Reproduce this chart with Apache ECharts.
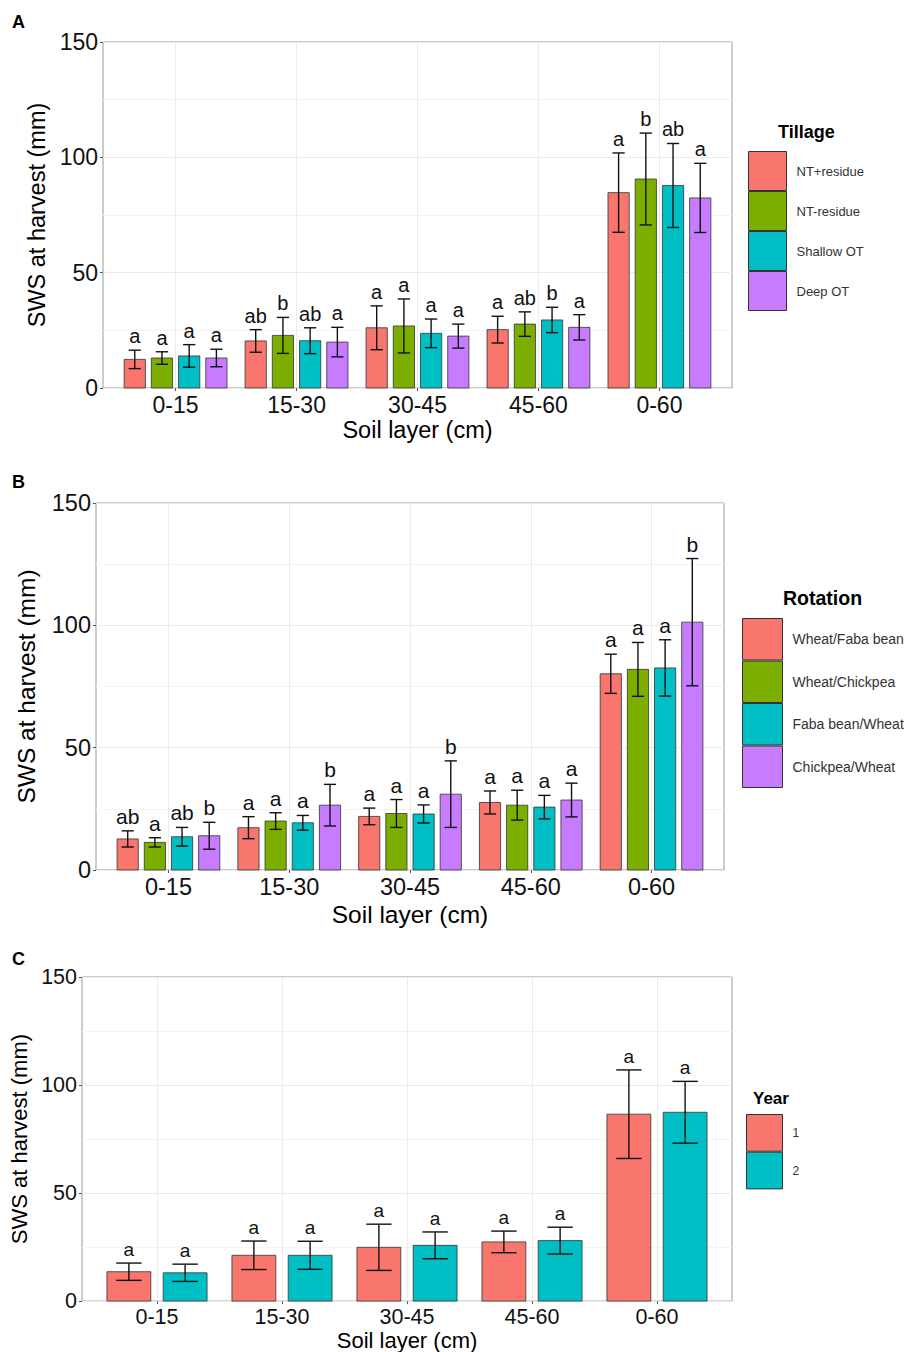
<!DOCTYPE html>
<html>
<head>
<meta charset="utf-8">
<script src="https://cdn.jsdelivr.net/npm/echarts@6/dist/echarts.min.js"></script>
<style>
html,body{margin:0;padding:0;background:#fff;}
#chart{width:909px;height:1352px;}
</style>
</head>
<body>
<div id="chart"></div>
<script>
// ---------------- data ----------------
const categories = ['0-15', '15-30', '30-45', '45-60', '0-60'];
const yTicks = [0, 50, 100, 150];
const xTitle = 'Soil layer (cm)';
const yTitle = 'SWS at harvest (mm)';

// Panel A – Tillage
const tillageNames = ['NT+residue', 'NT-residue', 'Shallow OT', 'Deep OT'];
const tillageMean = [
  [12.4, 20.4, 26.1, 25.3, 84.7],
  [13.0, 22.8, 26.9, 27.7, 90.6],
  [13.9, 20.5, 23.7, 29.5, 87.8],
  [13.0, 19.9, 22.5, 26.3, 82.4]
];
const tillageErr = [
  [4.0, 4.9, 9.5, 5.8, 17.2],
  [2.7, 7.8, 11.7, 5.3, 19.9],
  [4.9, 5.6, 6.2, 5.5, 18.2],
  [3.8, 6.4, 5.2, 5.5, 15.0]
];
const tillageLetters = [
  ['a', 'ab', 'a', 'a', 'a'],
  ['a', 'b', 'a', 'ab', 'b'],
  ['a', 'ab', 'a', 'b', 'ab'],
  ['a', 'a', 'a', 'a', 'a']
];

// Panel B – Rotation
const rotationNames = ['Wheat/Faba bean', 'Wheat/Chickpea', 'Faba bean/Wheat', 'Chickpea/Wheat'];
const rotationMean = [
  [12.7, 17.3, 21.9, 27.6, 80.2],
  [11.3, 20.0, 23.1, 26.5, 82.0],
  [13.6, 19.3, 22.9, 25.7, 82.6],
  [14.0, 26.5, 31.0, 28.6, 101.3]
];
const rotationErr = [
  [3.3, 4.5, 3.4, 4.7, 8.0],
  [1.9, 3.4, 5.7, 6.1, 11.0],
  [3.8, 3.0, 3.7, 4.8, 11.5],
  [5.5, 8.5, 13.6, 6.9, 26.0]
];
const rotationLetters = [
  ['ab', 'a', 'a', 'a', 'a'],
  ['a', 'a', 'a', 'a', 'a'],
  ['ab', 'a', 'a', 'a', 'a'],
  ['b', 'b', 'b', 'a', 'b']
];

// Panel C – Year
const yearNames = ['1', '2'];
const yearMean = [
  [13.6, 21.2, 24.9, 27.4, 86.5],
  [13.1, 21.2, 25.8, 28.0, 87.4]
];
const yearErr = [
  [4.0, 6.6, 10.7, 5.0, 20.5],
  [4.0, 6.5, 6.2, 6.2, 14.3]
];
const yearLetters = [
  ['a', 'a', 'a', 'a', 'a'],
  ['a', 'a', 'a', 'a', 'a']
];

// ---------------- styling / layout ----------------
const FONT = 'Liberation Sans, Arial, Helvetica, sans-serif';
const pal4 = ['#F8766D', '#7CAE00', '#00BFC4', '#C77CFF'];
const pal2 = ['#F8766D', '#00BFC4'];

const panels = [
  { letter: 'A', letterTop: 13, names: tillageNames, mean: tillageMean, err: tillageErr, letters: tillageLetters, colors: pal4,
    grid: { left: 103, top: 42, width: 629, height: 346 },
    tickFs: 23, titleFs: 23.5, xGap: 30, yGap: 54, labFs: 20,
    legendTitle: 'Tillage', ltLeft: 778, ltTop: 123, ltFs: 18,
    legend: { left: 748, top: 151, w: 38, h: 39, fs: 13 } },
  { letter: 'B', letterTop: 473, names: rotationNames, mean: rotationMean, err: rotationErr, letters: rotationLetters, colors: pal4,
    grid: { left: 96, top: 503, width: 628, height: 367 },
    tickFs: 23.5, titleFs: 24.5, xGap: 32, yGap: 57, labFs: 21,
    legendTitle: 'Rotation', ltLeft: 783, ltTop: 588, ltFs: 19.5,
    legend: { left: 742, top: 618, w: 40, h: 41.5, fs: 14 } },
  { letter: 'C', letterTop: 950, names: yearNames, mean: yearMean, err: yearErr, letters: yearLetters, colors: pal2,
    grid: { left: 82, top: 977, width: 650, height: 325 },
    tickFs: 21.5, titleFs: 22, xGap: 27, yGap: 49, labFs: 19,
    legendTitle: 'Year', ltLeft: 753, ltTop: 1090, ltFs: 17,
    legend: { left: 746, top: 1114, w: 36, h: 36.7, fs: 12 } }
];

function makeRender(n, j, letters, color, fs) {
  const slot = 0.9 / n, bw = slot * 0.78, cw = slot * 0.45;
  return function (params, api) {
    const ci = api.value(0), m = api.value(1), e = api.value(2);
    const x = ci + (j - (n - 1) / 2) * slot;
    const tl = api.coord([x - bw / 2, m]);
    const br = api.coord([x + bw / 2, 0]);
    const hi = api.coord([x, m + e]);
    const lo = api.coord([x, m - e]);
    const cl = api.coord([x - cw / 2, m]);
    const cr = api.coord([x + cw / 2, m]);
    return {
      type: 'group',
      children: [
        { type: 'rect', shape: { x: tl[0], y: tl[1], width: br[0] - tl[0], height: br[1] - tl[1] },
          style: { fill: color, stroke: '#333', lineWidth: 0.8 } },
        { type: 'line', shape: { x1: hi[0], y1: hi[1], x2: lo[0], y2: lo[1] }, style: { stroke: '#111', lineWidth: 1.4 } },
        { type: 'line', shape: { x1: cl[0], y1: hi[1], x2: cr[0], y2: hi[1] }, style: { stroke: '#111', lineWidth: 1.4 } },
        { type: 'line', shape: { x1: cl[0], y1: lo[1], x2: cr[0], y2: lo[1] }, style: { stroke: '#111', lineWidth: 1.4 } },
        { type: 'text', x: hi[0], y: hi[1] - 4,
          style: { text: letters[params.dataIndex], fontSize: fs, fontFamily: FONT, fill: '#111', align: 'center', verticalAlign: 'bottom' } }
      ]
    };
  };
}

const option = {
  animation: false,
  backgroundColor: '#fff',
  textStyle: { fontFamily: FONT },
  title: [], grid: [], xAxis: [], yAxis: [], legend: [], series: []
};

panels.forEach((p, k) => {
  option.title.push({ text: p.letter, left: 12, top: p.letterTop, padding: 0,
    textStyle: { fontSize: 18, fontWeight: 'bold', color: '#000', fontFamily: FONT } });
  option.title.push({ text: p.legendTitle, left: p.ltLeft, top: p.ltTop, padding: 0,
    textStyle: { fontSize: p.ltFs, fontWeight: 'bold', color: '#000', fontFamily: FONT } });
  option.grid.push(Object.assign({ show: true, borderColor: '#9a9a9a', borderWidth: 1, backgroundColor: '#fff' }, p.grid));
  option.xAxis.push({
    gridIndex: k, type: 'value', min: -0.6, max: 4.6, position: 'bottom',
    axisLine: { show: false, onZero: false }, splitLine: { show: false },
    axisTick: { show: true, customValues: categories.map((c, i) => i), length: 3, lineStyle: { color: '#555' } },
    axisLabel: { customValues: categories.map((c, i) => i), formatter: v => categories[Math.round(v)],
      fontSize: p.tickFs, color: '#111', margin: 5, fontFamily: FONT },
    name: xTitle, nameLocation: 'middle', nameGap: p.xGap,
    nameTextStyle: { fontSize: p.titleFs, color: '#000', fontFamily: FONT }
  });
  option.yAxis.push({
    gridIndex: k, type: 'value', position: 'left',
    min: yTicks[0], max: yTicks[yTicks.length - 1], interval: yTicks[1] - yTicks[0],
    axisLine: { show: false, onZero: false },
    axisTick: { show: true, length: 3, lineStyle: { color: '#555' } },
    axisLabel: { fontSize: p.tickFs, color: '#111', margin: 5, fontFamily: FONT },
    splitLine: { show: true, lineStyle: { color: '#ebebeb', width: 1 } },
    minorTick: { show: false, splitNumber: 2 },
    minorSplitLine: { show: true, lineStyle: { color: '#f4f4f4', width: 1 } },
    name: yTitle, nameLocation: 'middle', nameGap: p.yGap, nameRotate: 90,
    nameTextStyle: { fontSize: p.titleFs, color: '#000', fontFamily: FONT }
  });
  option.legend.push({
    orient: 'vertical', left: p.legend.left, top: p.legend.top, padding: 0, itemGap: 0,
    itemWidth: p.legend.w, itemHeight: p.legend.h, icon: 'rect', selectedMode: false,
    data: p.names,
    itemStyle: { borderColor: '#333', borderWidth: 1 },
    textStyle: { fontSize: p.legend.fs, color: '#333', fontFamily: FONT, padding: [0, 0, 0, 5] }
  });
  const n = p.names.length;
  p.names.forEach((name, j) => {
    const s = {
      type: 'custom', name: name, xAxisIndex: k, yAxisIndex: k, silent: true,
      itemStyle: { color: p.colors[j], borderColor: '#333', borderWidth: 1 },
      encode: { x: 0, y: 1 },
      data: categories.map((c, i) => [i, p.mean[j][i], p.err[j][i]]),
      renderItem: makeRender(n, j, p.letters[j], p.colors[j], p.labFs),
      z: 3
    };
    if (j === 0) {
      s.markLine = { silent: true, symbol: 'none', z: 1, label: { show: false },
        lineStyle: { color: '#ebebeb', width: 1, type: 'solid' },
        data: categories.map((c, i) => ({ xAxis: i })) };
    }
    option.series.push(s);
  });
});

const chart = echarts.init(document.getElementById('chart'), null, { renderer: 'svg' });
chart.setOption(option);
</script>
</body>
</html>
